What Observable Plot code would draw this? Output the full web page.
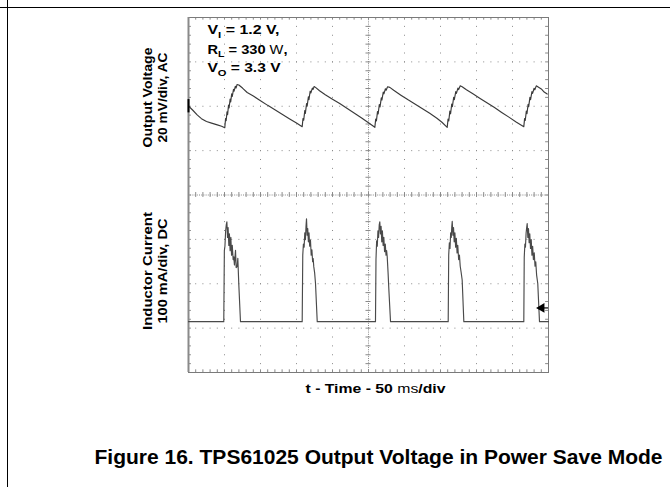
<!DOCTYPE html>
<html><head><meta charset="utf-8">
<script src="https://cdn.jsdelivr.net/npm/d3@7"></script>
<script src="https://cdn.jsdelivr.net/npm/@observablehq/plot@0.6"></script>
<style>
body{margin:0;background:#fff;}
#wrap{position:relative;width:670px;height:487px;overflow:hidden;background:#fff;}
#wrap svg{position:absolute;left:0;top:0;}
#hline{position:absolute;left:0;top:7px;width:670px;height:0;border-top:1.6px solid #000;z-index:2;}
#vline{position:absolute;left:6.5px;top:0;width:0;height:487px;border-left:1px solid #000;z-index:2;}
</style></head><body><div id="wrap"><div id="hline"></div><div id="vline"></div></div>
<script>
// ---- Data (time in ms, 50 ms/div) ----
// Channel 1: output voltage, AC coupled, mV (20 mV/div)
const voltagePoints = [
  [0,0.1],[6,-1.8],[12,-3.9],[18,-5.6],[25,-6.9],[32,-7.6],[40,-8.4],[46,-9.0],[50.4,-9.7],
  [51.5,-5.5],[52.3,-6.5],[53.5,-2.5],[54.3,-3.8],[55.6,0.5],[56.4,-0.8],[57.8,3.2],[58.6,2.0],[60.0,5.6],[60.8,4.4],[62.5,7.6],[63.3,6.8],[65,9.0],[66,8.2],[67.5,9.8],[69.9,9.6],
  [75,8.2],[81.5,6.2],[90,4.6],[100,2.5],[110,0.4],[120,-1.6],[130,-3.6],[140,-5.6],[150,-7.6],[157.9,-9.2],
  [159,-5.5],[160,-6.3],[161.5,-2],[162.3,-3.2],[164,1.2],[164.8,0],[166.5,4.2],[167.3,3],[169,6.8],[170,6],[172,8.2],[173,7.6],[174.5,8.9],[176.4,8.5],
  [182,7.0],[190,5.2],[200,3.2],[210,1.2],[220,-0.9],[230,-3.0],[240,-5.2],[250,-7.4],[258.8,-9.5],
  [260,-5.8],[261,-6.6],[262.5,-2.4],[263.4,-3.5],[265,0.8],[266,-0.3],[267.8,3.8],[268.6,2.8],[270.5,6.4],[271.4,5.6],[273.5,7.9],[274.5,7.2],[276.5,8.8],[279.6,8.5],
  [285,7.2],[295,5.0],[305,2.9],[315,0.9],[325,-1.1],[335,-3.2],[345,-5.4],[352,-7.2],[359.3,-9.5],
  [360.5,-5.8],[361.5,-6.6],[363,-2.2],[364,-3.4],[365.6,1],[366.5,-0.2],[368.3,4],[369.2,3],[371.2,6.6],[372.1,5.8],[374.2,8.2],[375.2,7.5],[377.4,9.2],[380.1,8.8],
  [386,7.4],[395,5.6],[405,3.5],[415,1.5],[425,-0.6],[435,-2.8],[445,-4.9],[455,-7.1],[465.7,-9.2],
  [466.8,-5.6],[467.7,-6.4],[469.2,-2.2],[470.1,-3.3],[471.7,0.9],[472.5,-0.2],[474.2,4],[475.1,3],[477,6.6],[477.9,5.8],[480,8.1],[481,7.4],[483,9.2],[485.1,8.8],
  [490,7.8],[494,6.4],[498.2,5.5]
];
// Channel 2: inductor current, DC coupled, mA (100 mA/div)
const currentPoints = [
  [0,0],[49.0,0],
  [49.8,160],[50.6,170],[51.6,205],[52.5,219],[53.3,225],[54.2,190],[55.0,212],[56.0,172],[56.8,198],[57.8,160],[58.8,190],[59.8,150],[60.8,172],[62.0,140],[62.9,146],[63.8,128],[65.3,161],[66.2,122],[67.6,124],[68.5,143],[69.9,83],[72.2,0],
  [157.9,0],[158.7,150],[159.6,175],[160.6,168],[161.5,200],[162.4,185],[163.2,215],[163.9,232],[164.8,195],[165.6,210],[166.5,180],[167.4,200],[168.3,170],[169.4,184],[170.4,150],[171.4,162],[172.4,135],[173.2,142],[174.0,124],[175.2,110],[176.4,86],[178.8,0],
  [259.7,0],[260.4,140],[261.3,182],[262.2,170],[263.1,205],[264.0,190],[264.9,218],[265.7,225],[266.6,198],[267.5,215],[268.4,180],[269.3,205],[270.3,172],[271.3,190],[272.3,158],[273.3,175],[274.3,150],[275.2,160],[276.0,146],[277.2,110],[278.2,75],[280.6,0],
  [360.7,0],[361.4,150],[362.3,178],[363.2,165],[364.1,200],[365.0,190],[365.7,215],[366.3,226],[367.2,195],[368.1,212],[369.0,180],[370.0,200],[371.0,168],[372.0,188],[373.0,155],[374.0,172],[375.2,140],[376.3,150],[377.4,125],[378.6,112],[380.1,94],[382.4,0],
  [465.7,0],[466.3,145],[467.2,175],[468.0,168],[468.9,200],[469.7,212],[470.4,221],[471.3,190],[472.2,210],[473.1,178],[474.0,198],[475.0,165],[476.0,185],[477.0,150],[478.0,170],[479.0,140],[480.2,155],[481.3,125],[482.3,135],[483.5,105],[485.1,86],[487.5,0],[500,0]
];
const ch1Ground = [0];        // mV, channel 1 reference marker
const ch2Trigger = [31];      // mA, trigger level marker
const majorTimes = [50,100,150,200,300,350,400,450];
const majorDivs = [-3,-2,-1,1,2,3];
const annotationLines = ["V_{I} = 1.2 V,", "R_{L} = 330 [W],", "V_{O} = 3.3 V"];
const axisLabels = [
  {line:"Output Voltage", row:0, ch:1},
  {line:"20 mV/div, AC", row:1, ch:1},
  {line:"Inductor Current", row:0, ch:2},
  {line:"100 mA/div, DC", row:1, ch:2}
];
const xLabel = "t - Time - 50 [ms]/div";
const caption = "Figure 16. TPS61025 Output Voltage in Power Save Mode";

// channel setup (screen divisions)
const ch1 = {offset: 2, perDiv: 20};
const ch2 = {offset: -2.855, perDiv: 100};
const v2y = v => ch1.offset + v / ch1.perDiv;
const i2y = i => ch2.offset + i / ch2.perDiv;

const minorTimes = d3.range(0, 500.01, 10);
const minorDivs = d3.range(-4, 4.001, 0.2);
const font = "'Liberation Sans', Arial, Helvetica, sans-serif";
const grid = "#8a8a8a";

const labelMark = (row, dx) => Plot.text(axisLabels.filter(d => d.row === row), {
  text: "line", frameAnchor: "left", y: d => d.ch === 1 ? 2.197 : -1.713,
  dx, rotate: -90, textAnchor: "middle", lineAnchor: "bottom",
  fontSize: 13.5, fontWeight: "bold", fill: "#000"
});

const chart = Plot.plot({
  width: 670, height: 487,
  marginLeft: 188, marginRight: 122, marginTop: 17, marginBottom: 115,
  x: {domain: [0, 500], axis: null},
  y: {domain: [-4, 4], axis: null},
  style: {fontFamily: font, background: "transparent", overflow: "visible"},
  marks: [
    Plot.ruleY(majorDivs, {stroke: grid, strokeWidth: 1, strokeDasharray: "1,6.2"}),
    Plot.ruleX(majorTimes, {stroke: grid, strokeWidth: 1, strokeDasharray: "1,7.875"}),
    Plot.ruleX([250], {stroke: grid, strokeWidth: 1, strokeDasharray: "1,1.2"}),
    Plot.ruleY([0], {stroke: grid, strokeWidth: 1, strokeDasharray: "1,1.2"}),
    // center crosshair minor ticks
    Plot.ruleX(minorTimes, {x: d => d, y1: -0.055, y2: 0.055, stroke: grid}),
    Plot.ruleY(minorDivs, {y: d => d, x1: 246.5, x2: 253.5, stroke: grid}),
    // border minor ticks
    Plot.ruleX(minorTimes, {x: d => d, y1: 4, y2: 3.94, stroke: grid}),
    Plot.ruleX(minorTimes, {x: d => d, y1: -4, y2: -3.94, stroke: grid}),
    Plot.ruleY(minorDivs, {y: d => d, x1: 0, x2: 4, stroke: grid}),
    Plot.ruleY(minorDivs, {y: d => d, x1: 496, x2: 500, stroke: grid}),
    Plot.frame({stroke: "#7a7a7a", strokeWidth: 1}),
    Plot.ruleX([0], {stroke: "#8a8a8a", strokeWidth: 2}),
    // traces
    Plot.line(voltagePoints, {x: d => d[0], y: d => v2y(d[1]), stroke: "#3a3a3a", strokeWidth: 1.15}),
    Plot.line(currentPoints, {x: d => d[0], y: d => i2y(d[1]), stroke: "#4a4a4a", strokeWidth: 1.15}),
    // channel markers
    Plot.ruleX(ch1Ground, {x: () => 0, y1: d => v2y(d) - 0.15, y2: d => v2y(d) + 0.15, stroke: "#000", strokeWidth: 2}),
    Plot.ruleY(ch2Trigger, {y: d => i2y(d), x1: 492, x2: 500, stroke: "#000", strokeWidth: 1.2}),
    Plot.dot(ch2Trigger, {x: () => 490.5, y: d => i2y(d), symbol: "triangle", rotate: -90, r: 3.6, fill: "#000", stroke: "none"}),
    // annotation
    Plot.text(annotationLines, {text: d => d, frameAnchor: "left", y: (d, i) => [3.62, 3.184, 2.764][i], dx: 19,
      textAnchor: "start", lineAnchor: "bottom", fontSize: 13, fontWeight: "bold", fill: "#000"}),
    // axis labels (two rows)
    labelMark(0, -36.5),
    labelMark(1, -21.5),
    Plot.text([xLabel], {frameAnchor: "bottom", dx: 7, dy: 20.7, textAnchor: "middle", lineAnchor: "bottom",
      fontSize: 13, fontWeight: "bold", fill: "#000"}),
    Plot.text([caption], {frameAnchor: "bottom", dx: 10, dy: 91.3, textAnchor: "middle", lineAnchor: "bottom",
      fontSize: 20, fontWeight: "bold", fill: "#000"})
  ]
});
document.getElementById("wrap").appendChild(chart);

// rich text: subscripts _{..}, normal weight [..], and width fitting
const widths = {
  "V_{I} = 1.2 V,": 72, "R_{L} = 330 [W],": 80, "V_{O} = 3.3 V": 73,
  "Output Voltage": 100, "20 mV/div, AC": 90, "Inductor Current": 118, "100 mA/div, DC": 105,
  "t - Time - 50 [ms]/div": 140,
  "Figure 16. TPS61025 Output Voltage in Power Save Mode": 568
};
const NS = "http://www.w3.org/2000/svg";
d3.select(chart).selectAll("text").each(function() {
  const raw = this.textContent;
  if (/[_\[]/.test(raw)) {
    const parts = raw.split(/(_\{[^}]*\}|\[[^\]]*\])/).filter(s => s.length);
    while (this.firstChild) this.removeChild(this.firstChild);
    let down = false;
    for (const p of parts) {
      const ts = document.createElementNS(NS, "tspan");
      if (p.startsWith("_{")) {
        ts.textContent = p.slice(2, -1);
        ts.setAttribute("font-size", "72%");
        ts.setAttribute("dy", "3.5");
        down = true;
      } else if (p.startsWith("[")) {
        ts.textContent = p.slice(1, -1);
        ts.setAttribute("font-weight", "normal");
        if (down) { ts.setAttribute("dy", "-3.5"); down = false; }
      } else {
        ts.textContent = p;
        if (down) { ts.setAttribute("dy", "-3.5"); down = false; }
      }
      this.appendChild(ts);
    }
  }
  if (widths[raw]) {
    this.setAttribute("textLength", widths[raw]);
    this.setAttribute("lengthAdjust", "spacingAndGlyphs");
  }
});
</script>
</body></html>
